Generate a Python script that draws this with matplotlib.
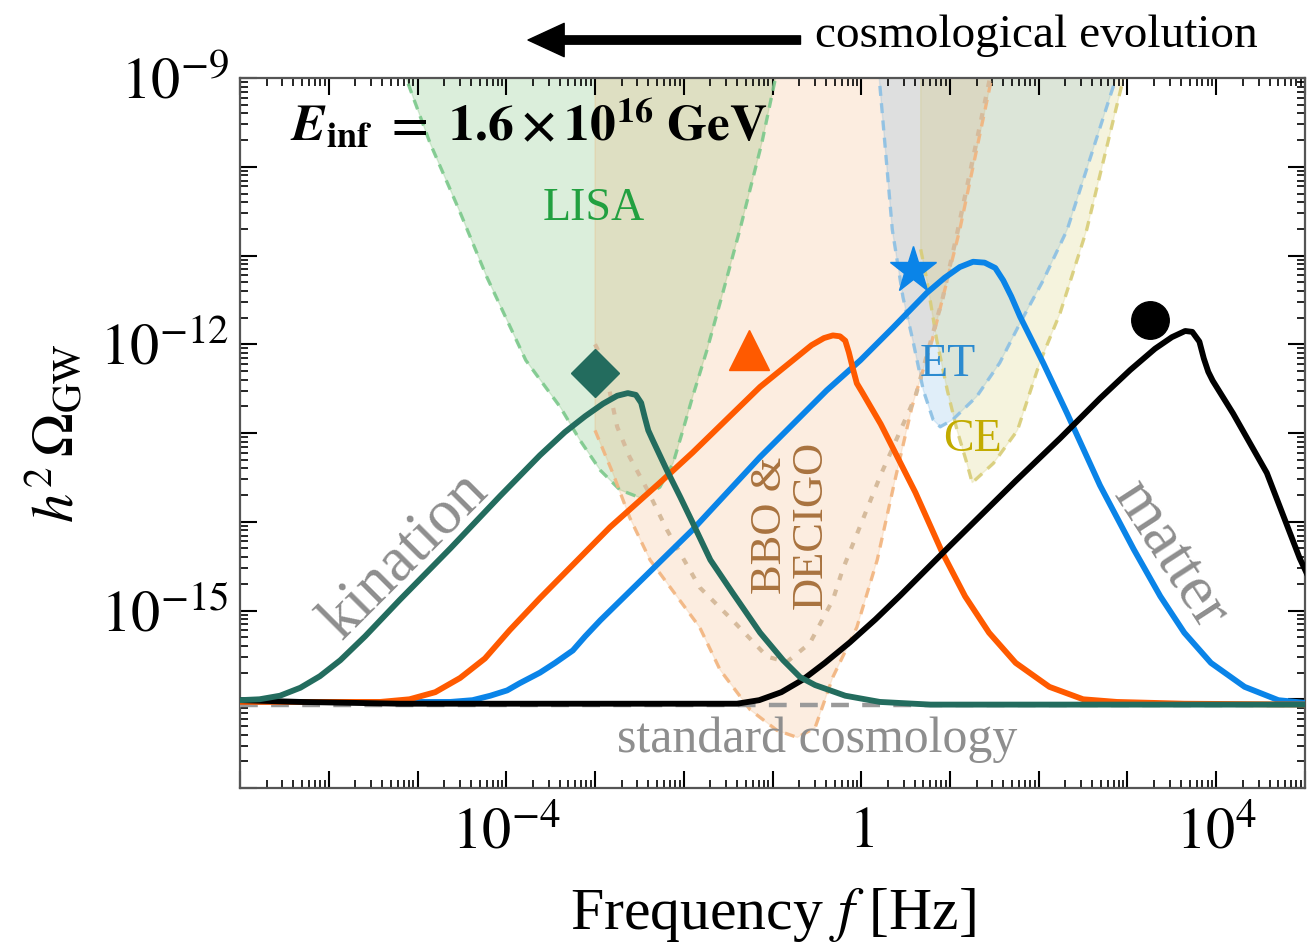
import matplotlib
matplotlib.use("Agg")
import matplotlib.pyplot as plt
import numpy as np
from matplotlib import ticker

plt.rcParams["font.family"] = "serif"
plt.rcParams["font.serif"] = ["Liberation Serif", "DejaVu Serif"]
plt.rcParams["mathtext.fontset"] = "stix"

# --- spectra, log10(f / Hz) and log10(h^2 Omega_GW) ---
kin_logf = [-7.0, -6.78, -6.55, -6.32, -6.10, -5.87, -5.59, -5.20, -4.63, -4.07, -3.62,
            -3.34, -3.11, -2.91, -2.75, -2.63, -2.54, -2.48, -2.44, -2.40, -2.35, -2.27,
            -2.19, -2.04, -1.90, -1.70, -1.45, -1.14, -0.88, -0.69, -0.52, -0.18, 0.21,
            0.78, 1.56, 5.1]
kin_logo = [-16.01, -16.00, -15.96, -15.87, -15.74, -15.56, -15.29, -14.88, -14.30, -13.71,
            -13.25, -12.99, -12.81, -12.67, -12.58, -12.55, -12.57, -12.66, -12.82, -12.97,
            -13.08, -13.25, -13.42, -13.72, -14.01, -14.43, -14.80, -15.25, -15.56, -15.75,
            -15.84, -15.96, -16.03, -16.06, -16.06, -16.06]

rad_logf = [-7.0, -5.42, -5.09, -4.80, -4.52, -4.24, -3.96, -3.62, -2.83, -2.27, -1.90,
            -1.51, -1.14, -0.77, -0.56, -0.42, -0.32, -0.24, -0.18, -0.14, -0.09, -0.05,
            0.01, 0.22, 0.61, 0.91, 1.17, 1.44, 1.74, 2.12, 2.50, 2.88, 3.64, 5.1]
rad_logo = [-16.03, -16.03, -16.00, -15.92, -15.76, -15.54, -15.22, -14.86, -14.06, -13.56,
            -13.22, -12.84, -12.48, -12.18, -12.01, -11.93, -11.90, -11.91, -11.96, -12.09,
            -12.29, -12.44, -12.54, -12.90, -13.67, -14.34, -14.84, -15.25, -15.59, -15.86,
            -16.00, -16.03, -16.05, -16.06]

blue_logf = [-7.0, -4.63, -4.38, -4.18, -3.99, -3.85, -3.62, -3.45, -3.25, -3.11, -2.94,
             -1.90, -1.14, -0.39, -0.01, 0.36, 0.74, 0.94, 1.11, 1.26, 1.39, 1.51, 1.60,
             1.69, 1.79, 2.05, 2.32, 2.69, 3.07, 3.37, 3.64, 3.94, 4.32, 4.70, 5.1]
blue_logo = [-16.03, -16.03, -16.01, -15.96, -15.90, -15.82, -15.70, -15.59, -15.45, -15.29,
             -15.11, -14.09, -13.27, -12.52, -12.18, -11.81, -11.42, -11.25, -11.13, -11.07,
             -11.08, -11.14, -11.28, -11.46, -11.69, -12.21, -12.78, -13.59, -14.31, -14.84,
             -15.25, -15.59, -15.86, -16.01, -16.05]

mat_logf = [-7.0, -6.32, -5.20, -1.40, -1.15, -0.90, -0.66, -0.41, -0.13, 0.16, 0.44, 1.0,
            1.74, 2.24, 2.69, 3.03, 3.31, 3.50, 3.65, 3.73, 3.81, 3.86, 3.91, 3.96, 4.19,
            4.57, 4.94, 5.08]
mat_logo = [-16.01, -16.03, -16.05, -16.05, -16.01, -15.92, -15.78, -15.59, -15.36, -15.10,
            -14.83, -14.27, -13.54, -13.06, -12.61, -12.29, -12.05, -11.92, -11.85, -11.86,
            -11.97, -12.16, -12.31, -12.41, -12.78, -13.45, -14.41, -14.71]

std_logo = -16.06

# peak markers (log10 f, log10 Omega)
kin_peak = (-3.0, -12.32)
rad_peak = (-1.27, -12.07)
blue_peak = (0.58, -11.16)
mat_peak = (3.25, -11.73)

# --- detector sensitivity regions ---
lisa_logf = [-5.25, -5.14, -4.86, -4.53, -4.22, -3.78, -3.39, -3.17, -2.94, -2.72, -2.49,
             -2.27, -2.12, -2.01, -1.90, -1.74, -1.56, -1.36, -1.12, -0.96, -0.88]
lisa_logo = [-8.7, -8.97, -9.73, -10.49, -11.24, -12.18, -12.71, -13.08, -13.42, -13.64,
             -13.73, -13.61, -13.34, -12.97, -12.59, -12.07, -11.42, -10.68, -9.73, -8.97,
             -8.7]

bbo_logf = [-3.0, -3.0, -2.80, -2.61, -2.38, -1.82, -1.59, -1.25, -0.95, -0.72, -0.52,
            -0.32, -0.05, 0.18, 0.38, 0.57, 0.80, 1.11, 1.47, 1.55]
bbo_logo = [-8.7, -12.97, -13.45, -13.95, -14.43, -15.19, -15.67, -16.12, -16.35, -16.43,
            -16.32, -15.75, -15.19, -14.43, -13.53, -12.71, -11.95, -10.71, -9.0, -8.7]

dec_logf = [-3.0, -2.91, -2.75, -2.61, -2.41, -2.19, -1.82, -1.45, -1.06, -0.84, -0.58,
            -0.32, -0.21, 0.22, 0.61, 0.92, 1.08, 1.45, 1.52]
dec_logo = [-12.0, -12.18, -12.93, -13.27, -13.64, -14.09, -14.74, -15.11, -15.52, -15.58,
            -15.37, -14.88, -14.54, -13.47, -12.59, -11.47, -10.75, -9.0, -8.7]

et_logf = [0.17, 0.20, 0.35, 0.47, 0.58, 0.70, 0.81, 0.89, 1.03, 1.30, 1.56, 1.79, 2.05,
           2.32, 2.88, 2.96]
et_logo = [-8.7, -8.97, -10.71, -11.47, -11.95, -12.52, -12.85, -12.93, -12.85, -12.59,
           -12.21, -11.76, -11.28, -10.71, -8.97, -8.7]

ce_logf = [0.67, 0.67, 0.74, 0.85, 0.97, 1.08, 1.19, 1.25, 1.49, 1.76, 2.01, 2.24, 2.54,
           2.95, 3.03]
ce_logo = [-8.7, -10.93, -11.28, -11.95, -12.52, -12.97, -13.34, -13.56, -13.34, -12.97,
           -12.21, -11.65, -10.71, -9.02, -8.7]

C_KIN = "#236c5e"
C_RAD = "#ff5a00"
C_BLUE = "#0a84e8"
C_GRAY = "#8e8e8e"


def pw(vals):
    return 10.0 ** np.asarray(vals, dtype=float)


fig = plt.figure(figsize=(13.08, 9.46), dpi=100)
ax = fig.add_axes([0.1835, 0.1670, 0.8142, 0.7505])
ax.set_xscale("log")
ax.set_yscale("log")
ax.set_xlim(1e-7, 1e5)
ax.set_ylim(1e-17, 1e-9)

# sensitivity regions
regions = [
    (lisa_logf, lisa_logo, "#2ca02c", "#7cc98c", False),
    (bbo_logf, bbo_logo, "#f29a4a", "#f2b47e", True),
    (et_logf, et_logo, "#4a9fdc", "#8cc0e4", False),
    (ce_logf, ce_logo, "#c9bb3a", "#d8cd78", True),
]
for lf, lo, fc, ec, vertical in regions:
    ax.fill(pw(lf), pw(lo), facecolor=fc, alpha=0.17, edgecolor=fc, lw=1.0, zorder=1)
    start = 1 if vertical else 0
    ax.plot(pw(lf[start:]), pw(lo[start:]), color=ec, lw=2.4, ls=(0, (3, 2.2)),
            alpha=0.9, zorder=2)
ax.plot(pw(dec_logf), pw(dec_logo), color="#d6bb9c", lw=3.0, ls=(0, (1.6, 2.4)), zorder=2)

# standard cosmology
ax.axhline(10.0 ** std_logo, color="#9a9a9a", lw=3.2, ls=(0, (4, 3)), zorder=3)

# spectra
lw = 4.2
ax.plot(pw(blue_logf), pw(blue_logo), color=C_BLUE, lw=lw, zorder=5, solid_capstyle="round")
ax.plot(pw(rad_logf), pw(rad_logo), color=C_RAD, lw=lw, zorder=5, solid_capstyle="round")
ax.plot(pw(mat_logf), pw(mat_logo), color="black", lw=lw, zorder=6, solid_capstyle="round")
ax.plot(pw(kin_logf), pw(kin_logo), color=C_KIN, lw=lw, zorder=6, solid_capstyle="round")

ax.plot(*pw(kin_peak), marker="D", ms=24, color=C_KIN, ls="none", zorder=7)
ax.plot(*pw(rad_peak), marker="^", ms=29, color=C_RAD, ls="none", zorder=7)
ax.plot(*pw(blue_peak), marker="*", ms=35, color=C_BLUE, ls="none", zorder=7)
ax.plot(*pw(mat_peak), marker="o", ms=27, color="black", ls="none", zorder=7)

# labels inside the plot
ax.text(10 ** -3.01, 10 ** -10.47, "LISA", color="#22a040", fontsize=33,
        ha="center", va="center")
ax.text(10 ** 0.98, 10 ** -12.23, "ET", color="#2b8ad0", fontsize=33,
        ha="center", va="center")
ax.text(10 ** 1.25, 10 ** -13.08, "CE", color="#c2ab00", fontsize=33,
        ha="center", va="center")
ax.text(10 ** -0.80, 10 ** -14.04, "BBO &\nDECIGO", color="#a9733f", fontsize=32,
        ha="center", va="center", rotation=90, multialignment="center", linespacing=1.0)
ax.text(10 ** -5.14, 10 ** -14.38, "kination", color=C_GRAY, fontsize=46,
        ha="center", va="center", rotation=45)
ax.text(10 ** 3.48, 10 ** -14.38, "matter", color=C_GRAY, fontsize=46,
        ha="center", va="center", rotation=-57)
ax.text(10 ** -0.50, 10 ** -16.46, "standard cosmology", color=C_GRAY, fontsize=36,
        ha="center", va="center")
ax.text(0.047, 0.934, r"$\mathbfit{E}_{\mathbf{inf}}\ \mathbf{=\ 1.6 \times 10^{16}\ GeV}$",
        transform=ax.transAxes, fontsize=37, ha="left", va="center")

# axes, ticks
decades = 10.0 ** np.arange(-17, 6)
for axis in (ax.xaxis, ax.yaxis):
    axis.set_major_locator(ticker.FixedLocator(decades))
    axis.set_minor_locator(ticker.LogLocator(base=10, subs=np.arange(2, 10), numticks=200))
    axis.set_minor_formatter(ticker.NullFormatter())


def xlabel_fmt(v, pos):
    e = int(round(np.log10(v)))
    if e == 0:
        return "$1$"
    return rf"$10^{{{e}}}$" if e in (-4, 4) else ""


def ylabel_fmt(v, pos):
    e = int(round(np.log10(v)))
    return rf"$10^{{{e}}}$" if e in (-9, -12, -15) else ""


ax.xaxis.set_major_formatter(ticker.FuncFormatter(xlabel_fmt))
ax.yaxis.set_major_formatter(ticker.FuncFormatter(ylabel_fmt))
ax.tick_params(which="both", direction="in", top=True, right=True, color="black",
               labelsize=42)
ax.tick_params(which="major", length=12, width=1.5)
ax.tick_params(which="minor", length=6, width=1.2)
ax.tick_params(axis="x", pad=14)
ax.tick_params(axis="y", pad=8)
for sp in ax.spines.values():
    sp.set_color("#555555")
    sp.set_linewidth(1.6)

ax.set_xlabel(r"Frequency $f$ [Hz]", fontsize=43, labelpad=18)
ax.set_ylabel(r"$h^2\,\Omega_{\rm GW}$", fontsize=42, labelpad=10)

# direction of cosmological time
fig.text(0.623, 0.962, "cosmological evolution", fontsize=34, ha="left", va="center")
ax.annotate("", xy=(0.4037, 0.9577), xytext=(0.612, 0.9577), xycoords="figure fraction",
            textcoords="figure fraction",
            arrowprops=dict(width=6, headwidth=24, headlength=26, color="black", shrink=0))

fig.savefig("out.png", dpi=100)
